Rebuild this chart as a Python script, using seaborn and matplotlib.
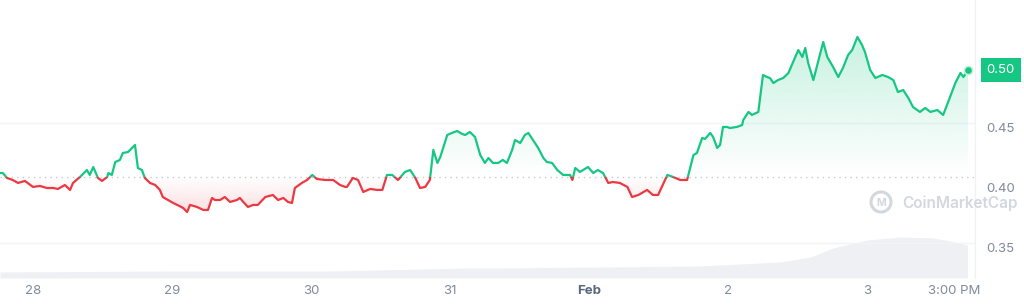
import numpy as np
import pandas as pd
import matplotlib
matplotlib.use("Agg")
import matplotlib.pyplot as plt
import matplotlib.dates as mdates
from matplotlib.patches import Rectangle, Ellipse
from matplotlib.path import Path
from matplotlib.transforms import ScaledTranslation
import seaborn as sns

# ---------------- data ----------------
start = "2024-01-27 00:00"
# hours since start, price (USD)
hours = [18.3, 18.8, 19.5, 20.5, 21.4, 22.6, 24.0, 25.2, 26.4, 27.5, 28.3, 29.5, 30.4, 30.9, 32.1, 33.3, 33.8, 34.4,
         35.2, 35.9, 36.8, 37.0, 37.6, 38.2, 39.0, 39.5, 40.4, 41.1, 41.6, 42.1, 42.8, 43.3, 44.2, 45.1, 45.9, 46.4,
         47.3, 48.2,
         48.9, 49.9, 50.6, 51.1, 52.3, 53.4, 54.2, 54.9, 55.4, 56.3, 57.1, 58.0, 59.2, 59.7, 60.3, 61.1, 62.0, 62.8,
         64.1, 65.4, 66.3, 67.2, 68.0, 68.7, 69.2, 70.4, 71.3, 72.2, 73.0, 74.4, 75.8, 77.0, 77.9,
         78.2, 79.2, 80.1, 81.0, 82.2, 83.4, 84.3, 85.1, 86.0, 87.0, 88.2, 89.1, 90.0, 90.8, 91.7, 92.5, 93.1, 93.8,
         94.3, 95.5, 96.3, 97.2, 98.1, 98.6, 99.4, 100.3, 101.2, 102.0, 102.6, 103.4, 104.3, 105.1, 105.8, 106.7,
         107.2, 108.1, 108.9, 109.5, 110.3, 111.2, 112.1, 112.7, 113.6, 114.5, 115.5, 116.7, 117.1, 117.6, 118.4,
         119.8, 120.7, 121.5, 122.4, 123.3, 124.1, 125.3, 126.6, 127.4, 128.5, 130.0, 131.0, 131.9, 133.5, 134.5,
         135.7, 136.6,
         136.9, 138.0, 138.6, 139.5, 140.0, 140.9, 141.4, 142.1, 142.6, 143.1, 143.8, 144.3, 145.5, 146.4, 146.6,
         147.5, 148.1, 149.2, 150.0, 150.7, 151.2, 151.8, 152.6, 153.5, 154.4, 155.2, 156.1, 156.8, 157.3, 157.8,
         158.7, 159.5, 160.4, 161.1,
         162.1, 163.0, 163.8, 164.7, 165.4, 166.3, 167.1, 167.6, 168.5, 169.4, 170.6, 171.6, 172.5, 173.3, 174.2,
         175.1, 175.9, 177.1, 178.0, 178.9, 180.1, 181.1, 182.3, 183.2, 184.1, 184.6, 185.4]
price = [0.4083, 0.4083, 0.4042, 0.4025, 0.4000, 0.4017, 0.3967, 0.3975, 0.3958, 0.3958, 0.3950, 0.3983, 0.3942,
         0.4000, 0.4050, 0.4108, 0.4067, 0.4133, 0.4042, 0.4017, 0.4050, 0.4083, 0.4067, 0.4175, 0.4192, 0.4250,
         0.4258, 0.4292, 0.4317, 0.4125, 0.4108, 0.4042, 0.4000, 0.3983, 0.3942, 0.3883, 0.3858, 0.3833,
         0.3817, 0.3792, 0.3758, 0.3817, 0.3800, 0.3775, 0.3775, 0.3875, 0.3858, 0.3858, 0.3883, 0.3842, 0.3858,
         0.3875, 0.3842, 0.3800, 0.3817, 0.3817, 0.3883, 0.3900, 0.3858, 0.3875, 0.3842, 0.3833, 0.3958, 0.4000,
         0.4025, 0.4067, 0.4033, 0.4025, 0.4025, 0.3983, 0.3967,
         0.3967, 0.4042, 0.4025, 0.3925, 0.3950, 0.3942, 0.3942, 0.4067, 0.4067, 0.4025, 0.4092, 0.4108, 0.4042,
         0.3958, 0.3967, 0.4025, 0.4275, 0.4167, 0.4217, 0.4400, 0.4417, 0.4433, 0.4408, 0.4400, 0.4425, 0.4383,
         0.4233, 0.4167, 0.4208, 0.4167, 0.4167, 0.4192, 0.4167, 0.4275,
         0.4358, 0.4333, 0.4400, 0.4417, 0.4358, 0.4292, 0.4208, 0.4175, 0.4167, 0.4108, 0.4067, 0.4067, 0.4025,
         0.4125, 0.4092, 0.4133, 0.4083, 0.4108, 0.4083, 0.4000, 0.4008, 0.4000, 0.3967, 0.3883, 0.3900, 0.3942,
         0.3900, 0.3900, 0.4067, 0.4050, 0.4025, 0.4025,
         0.4025, 0.4233, 0.4250, 0.4375, 0.4367, 0.4417, 0.4383, 0.4292, 0.4317, 0.4467, 0.4467, 0.4458, 0.4467,
         0.4483, 0.4525, 0.4592, 0.4567, 0.4592, 0.4900, 0.4883, 0.4875, 0.4833, 0.4858, 0.4875, 0.4917, 0.5008,
         0.5108, 0.5050, 0.5125, 0.5000, 0.4858, 0.5008, 0.5175, 0.5050,
         0.4967, 0.4883, 0.4958, 0.5067, 0.5108, 0.5217, 0.5150, 0.5092, 0.4942, 0.4875, 0.4900, 0.4883, 0.4858,
         0.4758, 0.4775, 0.4708, 0.4633, 0.4592, 0.4625, 0.4592, 0.4608, 0.4567, 0.4717, 0.4833, 0.4917, 0.4883,
         0.4942]
base_price = 0.405  # reference (opening) price, dotted line

vol_hours = [18.3, 47.7, 75.3, 98.9, 104.6, 121.9, 139.2, 153.0, 158.2, 162.1, 168.0, 173.7, 179.4, 182.3, 185.3]
volume = [18, 21, 21, 30, 30, 33, 36, 48, 63, 90, 114, 123, 120, 111, 99]  # millions

tick_times = ["2024-01-28 00:00", "2024-01-29 00:00", "2024-01-30 00:00", "2024-01-31 00:00",
              "2024-02-01 00:00", "2024-02-02 00:00", "2024-02-03 00:00", "2024-02-03 15:00"]
tick_labels = ["28", "29", "30", "31", "Feb", "2", "3", "3:00 PM"]
y_ticks = [0.35, 0.40, 0.45, 0.50]
y_tick_labels = ["0.35", "0.40", "0.45", ""]
grid_values = [0.35, 0.45]
last_label = "0.50"

# ---------------- style ----------------
GREEN = "#16c784"
RED = "#ea3943"
GREY_TXT = "#808a9d"

sns.set_theme(style="white")
plt.rcParams["font.family"] = ["Inter", "DejaVu Sans"]

t0 = pd.Timestamp(start)
df = pd.DataFrame({"time": t0 + pd.to_timedelta(hours, unit="h"), "price": price})
dv = pd.DataFrame({"time": t0 + pd.to_timedelta(vol_hours, unit="h"), "volume": volume})
xnum = mdates.date2num(df["time"])
vnum = mdates.date2num(dv["time"])

W, H = 1024, 307
fig = plt.figure(figsize=(W / 100, H / 100), dpi=100)
rect = [0, 29 / H, 975 / W, 278 / H]

xmin = mdates.date2num(t0 + pd.Timedelta(hours=18.3))
xmax = mdates.date2num(t0 + pd.Timedelta(hours=186.6))
ymin, ymax = 0.3208, 0.5525

# volume axes (behind)
axv = fig.add_axes(rect)
axv.fill_between(vnum, volume, 0, color="#eef0f3", lw=0)
axv.set_xlim(xmin, xmax)
axv.set_ylim(0, 834)
axv.axis("off")

ax = fig.add_axes(rect)
ax.set_facecolor("none")

# gridlines
for yv in grid_values:
    ax.axhline(yv, color="#f3f4f6", lw=1, zorder=0)

# gradient fills
poly = ax.fill_between(xnum, price, base_price, facecolor="none", edgecolor="none")
clip = Path.make_compound_path(*poly.get_paths())
n = 256
g = np.zeros((n, 1, 4))
g[..., :3] = matplotlib.colors.to_rgb(GREEN)
g[:, 0, 3] = np.linspace(0.0, 0.24, n)
im = ax.imshow(g, extent=[xmin, xmax, base_price, max(price)], origin="lower", aspect="auto", zorder=1,
               interpolation="bilinear")
im.set_clip_path(clip, ax.transData)
r = np.zeros((n, 1, 4))
r[..., :3] = matplotlib.colors.to_rgb(RED)
r[:, 0, 3] = np.linspace(0.16, 0.0, n)
im2 = ax.imshow(r, extent=[xmin, xmax, min(price), base_price], origin="lower", aspect="auto", zorder=1,
                interpolation="bilinear")
im2.set_clip_path(clip, ax.transData)

# baseline
ax.axhline(base_price, color="#c5cad3", lw=1, ls=(0, (1, 3)), zorder=2)

# price line: green above, red below baseline
sns.lineplot(data=df, x="time", y="price", ax=ax, color=GREEN, lw=1.6, sort=False, estimator=None, zorder=3)
ln_g = ax.lines[-1]
sns.lineplot(data=df, x="time", y="price", ax=ax, color=RED, lw=1.6, sort=False, estimator=None, zorder=3)
ln_r = ax.lines[-1]
above = Rectangle((xmin - 10, base_price), (xmax - xmin) + 20, 1.0, transform=ax.transData)
below = Rectangle((xmin - 10, base_price - 1.0), (xmax - xmin) + 20, 1.0, transform=ax.transData)
ln_g.set_clip_path(above)
ln_r.set_clip_path(below)

# end dot
ax.scatter([df["time"].iloc[-1]], [price[-1]], s=36, color=GREEN, edgecolor="#c9f1df", linewidth=1.2, zorder=5)

ax.set_xlim(xmin, xmax)
ax.set_ylim(ymin, ymax)
ax.set_xlabel("")
ax.set_ylabel("")

# axes ticks
ax.set_xticks(mdates.date2num(pd.to_datetime(tick_times)))
ax.set_xticklabels(tick_labels)
ax.tick_params(axis="x", length=0, pad=5, labelsize=9.5, labelcolor=GREY_TXT)
for lab in ax.get_xticklabels():
    if lab.get_text() == "Feb":
        lab.set_fontweight("bold")
        lab.set_color("#58667e")

ax.yaxis.tick_right()
ax.set_yticks(y_ticks)
ax.set_yticklabels(y_tick_labels)
ax.tick_params(axis="y", length=0, pad=8, labelsize=9.5, labelcolor=GREY_TXT)
for lab in ax.get_yticklabels():
    lab.set_transform(lab.get_transform() + ScaledTranslation(0, -3 / 72, fig.dpi_scale_trans))

for s in ["left", "top", "bottom"]:
    ax.spines[s].set_visible(False)
ax.spines["right"].set_color("#eff2f5")
ax.spines["right"].set_linewidth(1)

# price tag
ax.annotate(last_label, xy=(1, price[-1]), xycoords=ax.get_yaxis_transform(), xytext=(18.5, 0),
            textcoords="offset points", ha="center", va="center", color="white", fontsize=9.5,
            bbox=dict(boxstyle="square,pad=0.45", fc=GREEN, ec="none"), annotation_clip=False, zorder=10)

# watermark
fig.add_artist(Ellipse((881 / W, 1 - 202 / H), 20 / W, 20 / H, transform=fig.transFigure, fill=False,
                       ec="#d3d7de", lw=2.2))
fig.text(881 / W, 1 - 203 / H, "M", ha="center", va="center", fontsize=7.5, color="#d3d7de", fontweight="bold")
fig.text(902 / W, 1 - 203 / H, "CoinMarketCap", ha="left", va="center", fontsize=11, color="#d3d7de",
         fontweight="semibold")

fig.savefig("out.png", dpi=100)
